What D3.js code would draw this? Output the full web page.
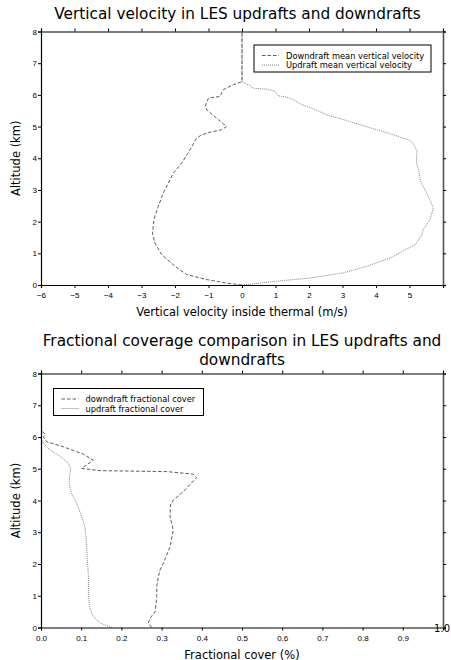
<!DOCTYPE html>
<html>
<head>
<meta charset="utf-8">
<script src="https://cdn.jsdelivr.net/npm/d3@7"></script>
<style>
  body { margin: 0; background: #fff; }
  svg { font-family: "DejaVu Sans", sans-serif; }
</style>
</head>
<body>
<div id="chart"></div>
<script>
// ---- data ----
// top panel: vertical velocity (m/s) vs altitude (km)
var downVel = [0, -0.46, -1.05, -1.65, -2.0, -2.4, -2.6, -2.67, -2.63, -2.5, -2.35, -2.2, -2.05, -1.8, -1.55, -1.35, -1.2, -0.96, -0.61, -0.46, -0.71, -1.05, -1.1, -1.0, -0.66, -0.56, -0.26, 0, 0]
var downVelAlt = [0, 0.06, 0.17, 0.33, 0.59, 0.96, 1.32, 1.64, 2.06, 2.48, 2.9, 3.22, 3.53, 3.85, 4.27, 4.64, 4.74, 4.82, 4.9, 5.0, 5.22, 5.53, 5.63, 5.9, 5.95, 6.16, 6.32, 6.42, 8]
var upVel = [0, 0.34, 1.03, 2.03, 3.02, 3.72, 4.42, 4.87, 5.17, 5.37, 5.41, 5.61, 5.71, 5.61, 5.46, 5.33, 5.29, 5.21, 5.21, 5.23, 5.1, 4.97, 4.52, 4.02, 3.52, 3.02, 2.53, 2.08, 1.73, 1.53, 1.33, 1.08, 0.99, 0.74, 0.34, 0.24, 0, 0]
var upVelAlt = [0, 0.04, 0.12, 0.22, 0.38, 0.59, 0.85, 1.11, 1.27, 1.59, 1.75, 2.06, 2.43, 2.69, 3.01, 3.27, 3.53, 3.85, 4.11, 4.22, 4.48, 4.58, 4.74, 4.9, 5.06, 5.22, 5.37, 5.58, 5.72, 5.85, 5.93, 5.97, 6.11, 6.18, 6.21, 6.29, 6.42, 8]

// bottom panel: fractional cover vs altitude (km)
var downCov = [0.275, 0.267, 0.271, 0.284, 0.288, 0.288, 0.292, 0.296, 0.304, 0.313, 0.321, 0.329, 0.321, 0.322, 0.329, 0.354, 0.387, 0.379, 0.313, 0.147, 0.101, 0.13, 0.105, 0.056, 0.014, 0.006, 0.01, 0]
var downCovAlt = [0, 0.14, 0.29, 0.5, 0.97, 1.29, 1.6, 1.81, 2.02, 2.29, 2.55, 3.07, 3.49, 3.86, 4.01, 4.28, 4.72, 4.83, 4.91, 4.94, 5.01, 5.27, 5.46, 5.69, 5.85, 6.0, 6.09, 6.22]
var upCov = [0.176, 0.147, 0.13, 0.122, 0.118, 0.118, 0.115, 0.112, 0.109, 0.101, 0.089, 0.076, 0.07, 0.072, 0.074, 0.068, 0.047, 0.022, 0.006, 0]
var upCovAlt = [0, 0.14, 0.35, 0.61, 0.97, 1.6, 2.23, 2.86, 3.18, 3.49, 3.91, 4.22, 4.54, 4.85, 5.01, 5.17, 5.4, 5.59, 5.8, 5.95]

var velTicks = [-6, -5, -4, -3, -2, -1, 0, 1, 2, 3, 4, 5]
var covTicks = [0, 0.1, 0.2, 0.3, 0.4, 0.5, 0.6, 0.7, 0.8, 0.9]
var altTicks = [0, 1, 2, 3, 4, 5, 6, 7, 8]

var svg = d3.select("#chart").append("svg")
    .attr("width", 451)
    .attr("height", 660)

var downStyle = {stroke: "#333", dash: "3.5,2", width: 0.8}
var upStyle = {stroke: "#666", dash: "1,1", width: 0.8}

function panel(opts) {
  var g = svg.append("g").attr("transform", "translate(" + opts.left + "," + opts.top + ")")
  var w = opts.width, h = opts.height

  var x = d3.scaleLinear().domain(opts.xdomain).range([0, w])
  var y = d3.scaleLinear().domain([0, 8]).range([h, 0])

  // lines
  var line = d3.line()
  function drawLine(xs, ys, st) {
    g.append("path")
      .attr("d", line(xs.map(function(v, i) { return [x(v), y(ys[i])] })))
      .attr("fill", "none")
      .attr("stroke", st.stroke)
      .attr("stroke-width", st.width)
      .attr("stroke-dasharray", st.dash)
  }
  drawLine(opts.down[0], opts.down[1], downStyle)
  drawLine(opts.up[0], opts.up[1], upStyle)

  // axes, ticks outward on all four sides
  var bottom = g.append("g").attr("transform", "translate(0," + h + ")")
    .call(d3.axisBottom(x).tickValues(opts.xticks).tickSize(3).tickFormat(opts.xfmt))
  var top = g.append("g")
    .call(d3.axisTop(x).tickValues(opts.xticks).tickSize(3).tickFormat(""))
  var left = g.append("g")
    .call(d3.axisLeft(y).tickValues(altTicks).tickSize(3).tickFormat(d3.format("d")))
  var right = g.append("g").attr("transform", "translate(" + w + ",0)")
    .call(d3.axisRight(y).tickValues(altTicks).tickSize(3).tickFormat(""))

  ;[bottom, top, left, right].forEach(function(a) {
    a.select(".domain").attr("stroke", "#000").attr("stroke-width", 1.2)
    a.selectAll(".tick line").attr("stroke", "#000").attr("stroke-width", 1)
    a.selectAll("text").attr("fill", "#000").style("font-size", "8px")
  })
  right.select(".domain").attr("stroke", "#555").attr("stroke-width", 1.6)
  bottom.selectAll("text").attr("dy", "0.9em")
  left.selectAll("text").attr("x", -4)

  // extra end label (reference shows "1.0" larger at the right end)
  if (opts.endLabel) {
    g.append("text")
      .attr("x", w + 7).attr("y", h + 4.5)
      .attr("text-anchor", "end")
      .style("font-size", "10px")
      .text(opts.endLabel)
  }

  // titles and axis labels
  opts.title.forEach(function(t, i) {
    g.append("text")
      .attr("x", w / 2 + opts.titleDx)
      .attr("y", opts.titleY + i * 19)
      .attr("text-anchor", "middle")
      .style("font-size", "15.3px")
      .text(t)
  })
  g.append("text")
    .attr("x", w / 2).attr("y", h + 31)
    .attr("text-anchor", "middle")
    .style("font-size", "11.5px")
    .text(opts.xlabel)
  g.append("text")
    .attr("transform", "translate(" + (-21) + "," + (h / 2) + ")rotate(-90)")
    .attr("text-anchor", "middle")
    .style("font-size", "11.5px")
    .text("Altitude (km)")

  // legend
  var lg = g.append("g").attr("transform", "translate(" + opts.legend[0] + "," + opts.legend[1] + ")")
  lg.append("rect")
    .attr("width", opts.legend[2]).attr("height", opts.legend[3])
    .attr("fill", "#fff").attr("stroke", "#000").attr("stroke-width", 1)
  ;[[opts.labels[0], downStyle], [opts.labels[1], upStyle]].forEach(function(d, i) {
    var ly = 10.5 + i * 9.5
    lg.append("line")
      .attr("x1", 8).attr("x2", 25).attr("y1", ly).attr("y2", ly)
      .attr("stroke", d[1].stroke).attr("stroke-width", d[1].width)
      .attr("stroke-dasharray", d[1].dash)
    lg.append("text")
      .attr("x", 32).attr("y", ly + 3)
      .style("font-size", "8.3px")
      .text(d[0])
  })
}

panel({
  left: 41, top: 31.5, width: 402, height: 253.5,
  xdomain: [-6, 6], xticks: velTicks, xfmt: d3.format("d"),
  down: [downVel, downVelAlt], up: [upVel, upVelAlt],
  title: ["Vertical velocity in LES updrafts and downdrafts"], titleY: -12.5, titleDx: -4.5,
  xlabel: "Vertical velocity inside thermal (m/s)",
  legend: [213, 13.5, 177, 27],
  labels: ["Downdraft mean vertical velocity", "Updraft mean vertical velocity"]
})

panel({
  left: 41, top: 373.5, width: 402, height: 254,
  xdomain: [0, 1], xticks: covTicks, xfmt: d3.format(".1f"), endLabel: "1.0",
  down: [downCov, downCovAlt], up: [upCov, upCovAlt],
  title: ["Fractional coverage comparison in LES updrafts and", "downdrafts"], titleY: -28, titleDx: 0,
  xlabel: "Fractional cover (%)",
  legend: [12.5, 15, 150, 27],
  labels: ["downdraft fractional cover", "updraft fractional cover"]
})
</script>
</body>
</html>
